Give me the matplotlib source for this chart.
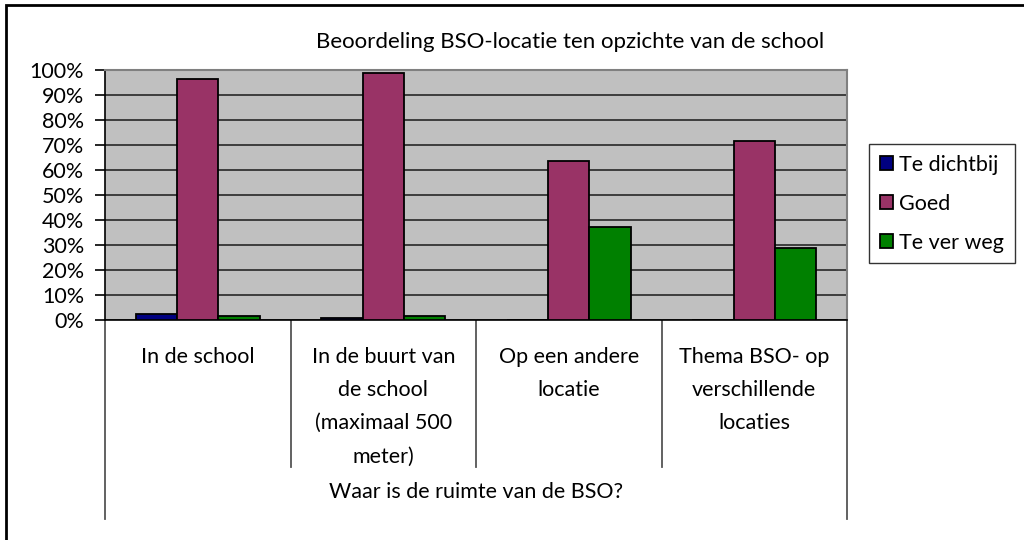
import matplotlib
matplotlib.use("Agg")
from matplotlib import pyplot as plt
from matplotlib import transforms
from matplotlib.patches import Rectangle
import numpy as np

plt.rcParams["font.family"] = ["Lato", "DejaVu Sans"]

title = "Beoordeling BSO-locatie ten opzichte van de school"
axis_title = "Waar is de ruimte van de BSO?"
categories = [
    "In de school",
    "In de buurt van\nde school\n(maximaal 500\nmeter)",
    "Op een andere\nlocatie",
    "Thema BSO- op\nverschillende\nlocaties",
]
series_names = ["Te dichtbij", "Goed", "Te ver weg"]
te_dichtbij = [2.4, 0.8, 0.0, 0.0]
goed = [96.4, 98.8, 63.4, 71.6]
te_ver_weg = [1.6, 1.5, 37.0, 28.8]
colors = ["#000080", "#993366", "#008000"]

W, H = 1024, 540
FS = 15.5
fig = plt.figure(figsize=(W / 100, H / 100), dpi=100)

# outer chart border
fig.patches.append(Rectangle((6 / W, -0.05), 1.2, (H - 5) / H + 0.05, transform=fig.transFigure,
                             fill=False, edgecolor="black", linewidth=2))

ax_left, ax_right, ax_top, ax_bottom = 105, 847, 69.5, 320
ax = fig.add_axes([ax_left / W, 1 - ax_bottom / H, (ax_right - ax_left) / W, (ax_bottom - ax_top) / H])
ax.set_facecolor("#C0C0C0")

n = len(categories)
x = np.arange(n) + 0.5
bw = 1 / 4.5
for i, (vals, name) in enumerate(zip([te_dichtbij, goed, te_ver_weg], series_names)):
    ax.bar(x + (i - 1) * bw, vals, width=bw, color=colors[i], edgecolor="black", linewidth=1.3,
           label=name, zorder=3)

ax.set_xlim(0, n)
ax.set_ylim(0, 100)
ax.set_yticks(np.arange(0, 101, 10))
ax.set_yticklabels([f"{v}%" for v in range(0, 101, 10)], fontsize=FS)
ax.tick_params(axis="y", length=7, width=1.2, pad=8, color="black")
ax.set_xticks([])
ax.grid(axis="y", color="#1a1a1a", linewidth=1.1, zorder=1)
for s in ["top", "right"]:
    ax.spines[s].set_color("#808080")
    ax.spines[s].set_linewidth(1.5)
for s in ["left", "bottom"]:
    ax.spines[s].set_color("black")
    ax.spines[s].set_linewidth(1.2)

# multi-level category axis
tr = transforms.blended_transform_factory(ax.transData, fig.transFigure)
for b in range(n + 1):
    y_end = 467 if 0 < b < n else 519
    ax.plot([b, b], [1 - ax_bottom / H, 1 - y_end / H], transform=tr, color="#555555",
            linewidth=1.3, clip_on=False)
for xi, lab in zip(x, categories):
    ax.text(xi, 1 - 347 / H, lab, transform=tr, ha="center", va="top", fontsize=FS,
            linespacing=1.82)
ax.text(n / 2, 1 - 492 / H, axis_title, transform=tr, ha="center", va="center", fontsize=FS)

fig.text(570 / W, 1 - 42 / H, title, ha="center", va="center", fontsize=16)

leg = fig.legend(loc="upper left", bbox_to_anchor=(869 / W, 1 - 144 / H), fontsize=FS,
                 frameon=True, fancybox=False, edgecolor="black", handlelength=0.6,
                 handleheight=0.6, handletextpad=0.3, labelspacing=0.88, borderpad=0.5,
                 borderaxespad=0)
leg.get_frame().set_linewidth(1.0)

fig.savefig("out.png", dpi=100)
